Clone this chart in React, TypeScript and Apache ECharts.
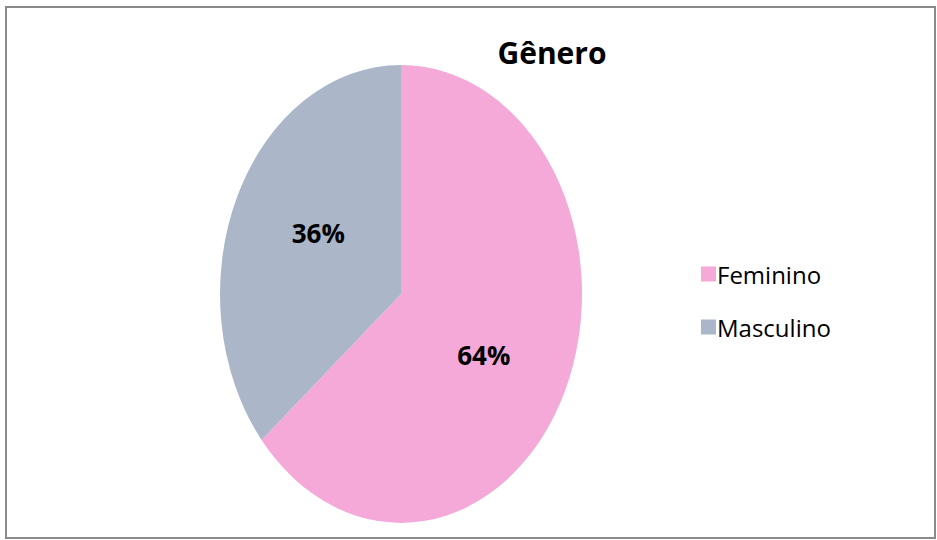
import React, { useEffect, useRef } from "react";
import * as echarts from "echarts";

const categories = ["Feminino", "Masculino"];
const values = [64, 36];
const colors = ["#F4A9D8", "#ABB6C8"];
const titleText = "Gênero";

const CX = 401;
const CY = 294;
const RX = 181;
const RY = 229;

export default function App() {
  const ref = useRef<HTMLDivElement>(null);
  useEffect(() => {
    if (!ref.current) return;
    const chart = echarts.init(ref.current, null, { renderer: "svg" });
    const total = values.reduce((a, b) => a + b, 0);
    const cum: number[] = [];
    let acc = 0;
    values.forEach((v) => {
      cum.push(acc);
      acc += v;
    });
    const series = categories.map((name, i) => ({
      type: "custom",
      name,
      coordinateSystem: "none",
      color: colors[i],
      data: [[values[i]]],
      renderItem: (_params: any, api: any) => {
        const v = api.value(0);
        const start = -Math.PI / 2 + (2 * Math.PI * cum[i]) / total;
        const end = start + (2 * Math.PI * v) / total;
        const mid = (start + end) / 2 + 0.09;
        const k = 0.53;
        const lx = CX + k * RX * Math.cos(mid);
        const ly = CY + k * RY * Math.sin(mid);
        return {
          type: "group",
          children: [
            {
              type: "sector",
              shape: { cx: CX, cy: CY, r: RX, r0: 0, startAngle: start, endAngle: end, clockwise: true },
              scaleY: RY / RX,
              originX: CX,
              originY: CY,
              style: { fill: colors[i] },
            },
            {
              type: "text",
              x: lx,
              y: ly,
              style: {
                text: Math.round((v / total) * 100) + "%",
                fill: "#000",
                font: "bold 26px 'Open Sans'",
                align: "center",
                verticalAlign: "middle",
              },
            },
          ],
        };
      },
    }));
    chart.setOption({
      animation: false,
      backgroundColor: "#fff",
      title: {
        text: titleText,
        left: 547,
        top: 32,
        textAlign: "center",
        textStyle: { fontFamily: "Open Sans", fontWeight: "bold", fontSize: 30, color: "#000" },
      },
      legend: {
        orient: "vertical",
        left: 696,
        top: 257,
        icon: "rect",
        itemWidth: 15,
        itemHeight: 15,
        itemGap: 29,
        data: categories,
        textStyle: { fontFamily: "Open Sans", fontSize: 24, color: "#000", padding: [0, 0, 0, -4] },
      },
      graphic: [
        {
          type: "rect",
          shape: { x: 6, y: 7, width: 929, height: 531 },
          style: { fill: "none", stroke: "#8a8a8a", lineWidth: 2 },
          silent: true,
        },
      ],
      series,
    });
    return () => chart.dispose();
  }, []);
  return (
    <div
      ref={ref}
      style={{ position: "absolute", left: 0, top: 0, width: 937, height: 540 }}
    />
  );
}
